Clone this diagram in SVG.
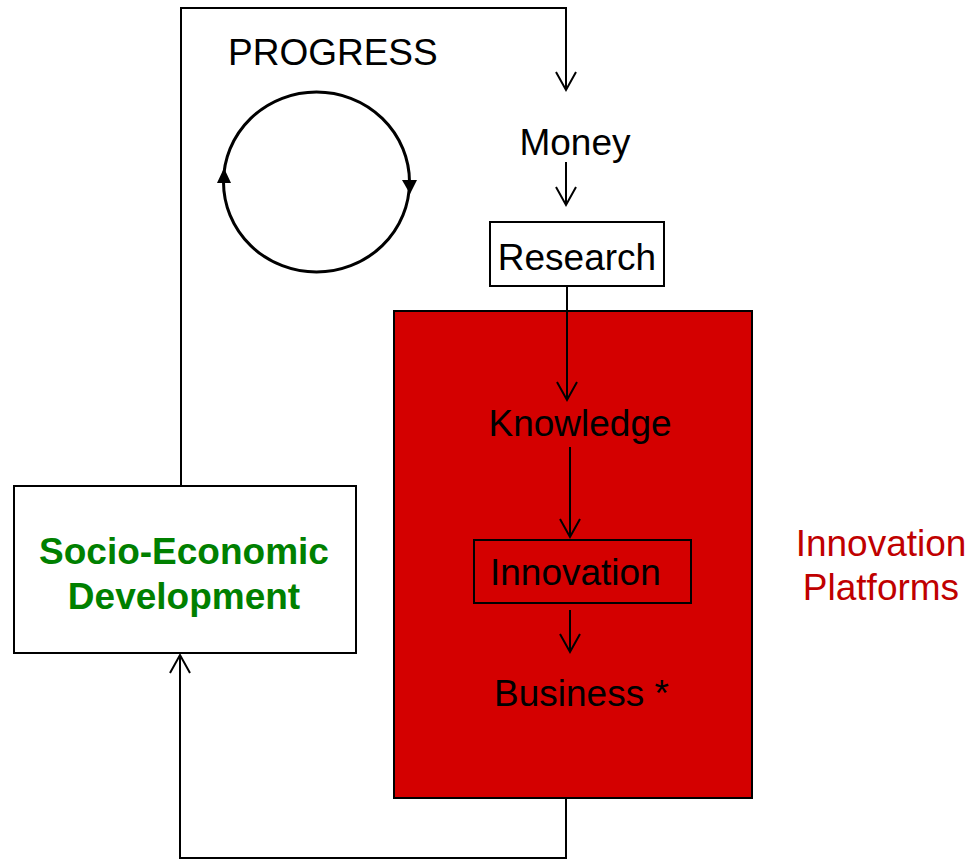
<svg xmlns="http://www.w3.org/2000/svg" width="970" height="860" viewBox="0 0 970 860">
<style>
.ln{fill:none;stroke:#000;stroke-width:2;}
.t{font-family:"Liberation Sans",Arial,sans-serif;font-size:37px;fill:#000;}
.g{font-weight:bold;fill:#008000;text-anchor:middle;}
.r{fill:#c00000;text-anchor:middle;}
</style>
<defs>
<marker id="chev" viewBox="-20 -12 24 24" refX="0" refY="0" markerWidth="24" markerHeight="24" markerUnits="userSpaceOnUse" orient="auto" overflow="visible">
<path d="M-18,-10 L0,0 L-18,10" fill="none" stroke="#000" stroke-width="2"/>
</marker>
</defs>
<rect width="970" height="860" fill="#fff"/>
<g id="platform">
<rect x="394" y="311" width="358" height="487" fill="#d40000" stroke="#000" stroke-width="2"/>
</g>
<g id="connectors">
<path class="ln" d="M181,485 V8 H566 V90" marker-end="url(#chev)"/>
<path class="ln" d="M566,162 V205" marker-end="url(#chev)"/>
<path class="ln" d="M567,286 V400" marker-end="url(#chev)"/>
<path class="ln" d="M570,447 V537" marker-end="url(#chev)"/>
<path class="ln" d="M570,610 V652" marker-end="url(#chev)"/>
<path class="ln" d="M566,798 V858 H180 V655" marker-end="url(#chev)"/>
</g>
<g id="progress">
<text class="t" x="228" y="65">PROGRESS</text>
<ellipse cx="316.5" cy="182" rx="93" ry="90" fill="none" stroke="#000" stroke-width="3"/>
<polygon points="224,168 217,183 231,183" fill="#000"/>
<polygon points="402,180 417,180 410,194" fill="#000"/>
</g>
<g id="money"><text class="t" x="575" y="155" text-anchor="middle">Money</text></g>
<g id="research">
<rect x="490" y="222" width="174" height="64" fill="#fff" stroke="#000" stroke-width="2"/>
<text class="t" x="577" y="270" text-anchor="middle">Research</text>
</g>
<g id="knowledge"><text class="t" x="580" y="436" text-anchor="middle">Knowledge</text></g>
<g id="innovation">
<rect x="474" y="540" width="217" height="63" fill="none" stroke="#000" stroke-width="2"/>
<text class="t" x="490" y="585">Innovation</text>
</g>
<g id="business"><text class="t" x="494" y="706">Business *</text></g>
<g id="socio">
<rect x="14" y="486" width="342" height="167" fill="#fff" stroke="#000" stroke-width="2"/>
<text class="t g" x="184" y="564">Socio-Economic</text>
<text class="t g" x="184" y="609">Development</text>
</g>
<g id="platforms-label">
<text class="t r" x="881" y="556">Innovation</text>
<text class="t r" x="881" y="600">Platforms</text>
</g>
</svg>
